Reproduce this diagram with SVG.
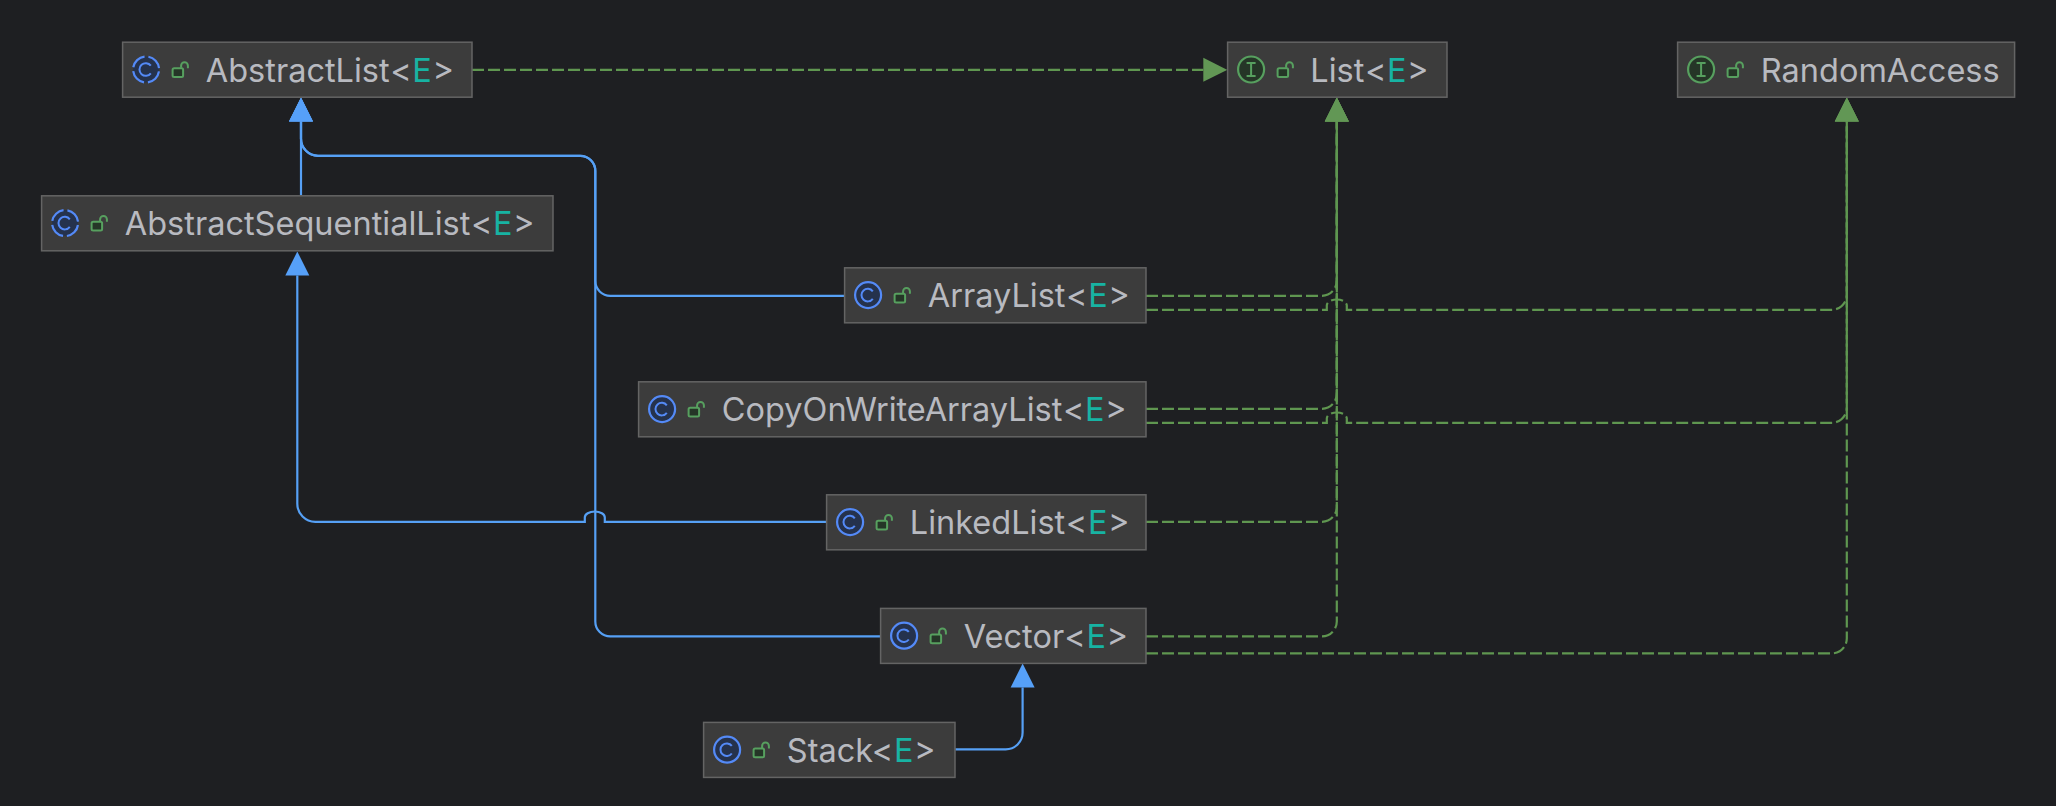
<svg xmlns="http://www.w3.org/2000/svg" width="2056" height="806" viewBox="0 0 2056 806">
<style>
.bg{fill:#1e1f22}
.box{fill:#3c3c3c;stroke:#646464;stroke-width:1.500}
.label{font-family:"Inter","Liberation Sans",sans-serif;font-size:32.500px;font-weight:400;fill:#b8bac0}
.e{fill:#17b3a3}
.ext{fill:none;stroke:#56a0f5;stroke-width:2.200}
.impl{fill:none;stroke:#5f9650;stroke-width:2.200;stroke-dasharray:12 4}
</style>
<defs>
<marker id="ah-blue" markerUnits="userSpaceOnUse" markerWidth="25" markerHeight="26" refX="1" refY="13" orient="auto" viewBox="0 0 25 26"><path d="M1 1 L25 13 L1 25 Z" fill="#56a0f8"/></marker>
<marker id="ah-green" markerUnits="userSpaceOnUse" markerWidth="25" markerHeight="26" refX="1" refY="13" orient="auto" viewBox="0 0 25 26"><path d="M1 1 L25 13 L1 25 Z" fill="#629755"/></marker>
<g id="lock"><rect x="50" y="26" width="10.500" height="8.800" rx="1.500" fill="#253627" stroke="#57a05f" stroke-width="2"/><path d="M58.500 25.500 V23.500 A3.400 3.400 0 0 1 65.300 23.500 V26" fill="none" stroke="#57a05f" stroke-width="2"/></g>
<g id="glyphC"><path d="M28.200 23.500 A6.300 6.300 0 1 0 28.200 31.100" fill="none" stroke="#548af7" stroke-width="2"/></g>
<g id="icon-class"><circle cx="23.500" cy="27.300" r="13" fill="#25324d" stroke="#548af7" stroke-width="2.200"/><use href="#glyphC"/><use href="#lock"/></g>
<g id="icon-abstract"><circle cx="23.500" cy="27.300" r="13" fill="#25324d"/><circle cx="23.500" cy="27.300" r="13" fill="none" stroke="#548af7" stroke-width="2.200" stroke-dasharray="16.420 4" stroke-dashoffset="-2"/><use href="#glyphC"/><use href="#lock"/></g>
<g id="icon-iface"><circle cx="23.500" cy="27.300" r="13" fill="#253627" stroke="#57a05f" stroke-width="2.200"/><path d="M19 20.700 H28 M19 33.900 H28 M23.500 20.700 V33.900" fill="none" stroke="#57a05f" stroke-width="2"/><use href="#lock"/></g>
</defs>
<rect class="bg" width="2056" height="806"/>
<g id="diagram" transform="translate(0.300 0.500)">
<g id="connectors">
<path class="impl" marker-end="url(#ah-green)" d="M471.700 69.300 H1203"/>
<path class="impl" marker-end="url(#ah-green)" d="M1145.700 295.300 H1321.500 A15 15 0 0 0 1336.500 280.300 V121"/>
<path class="impl" marker-end="url(#ah-green)" d="M1145.700 309.300 H1326.500 V305 A10 6 0 0 1 1346.500 305 V309.300 H1831.500 A15 15 0 0 0 1846.500 294.300 V121"/>
<path class="impl" marker-end="url(#ah-green)" d="M1145.700 408.300 H1321.500 A15 15 0 0 0 1336.500 393.300 V121"/>
<path class="impl" marker-end="url(#ah-green)" d="M1145.700 422.300 H1326.500 V418 A10 6 0 0 1 1346.500 418 V422.300 H1831.500 A15 15 0 0 0 1846.500 407.300 V121"/>
<path class="impl" marker-end="url(#ah-green)" d="M1145.700 521.300 H1321.500 A15 15 0 0 0 1336.500 506.300 V121"/>
<path class="impl" marker-end="url(#ah-green)" d="M1145.700 635.900 H1321.500 A15 15 0 0 0 1336.500 620.900 V121"/>
<path class="impl" marker-end="url(#ah-green)" d="M1145.700 652.900 H1831.500 A15 15 0 0 0 1846.500 637.900 V121"/>
<path class="ext" marker-end="url(#ah-blue)" d="M300.700 195 V121"/>
<path class="ext" marker-end="url(#ah-blue)" d="M844 295.300 H610 A15 15 0 0 1 595 280.300 V170.300 A15 15 0 0 0 580 155.300 H318 A17 17 0 0 1 300.700 138 V121"/>
<path class="ext" marker-end="url(#ah-blue)" d="M880 635.900 H610 A15 15 0 0 1 595 620.900 V170.300 A15 15 0 0 0 580 155.300 H318 A17 17 0 0 1 300.700 138 V121"/>
<path class="ext" marker-end="url(#ah-blue)" d="M826 521.300 H604.500 V517 A10 6 0 0 0 584.500 517 V521.300 H315 A18 18 0 0 1 297 503.300 V275"/>
<path class="ext" marker-end="url(#ah-blue)" d="M955 748.900 H1005 A17 17 0 0 0 1022.300 731.600 V687"/>
</g>
<g id="node-AbstractList"><rect class="box" x="122.300" y="41.700" width="349.400" height="55"/><use href="#icon-abstract" x="122.300" y="41.700"/><text class="label" x="205.500" y="81">AbstractList<tspan dx="1.500">&lt;</tspan><tspan class="e" dx="0.600">E</tspan><tspan dx="0.500">&gt;</tspan></text></g>
<g id="node-List"><rect class="box" x="1227.300" y="41.700" width="219.400" height="55"/><use href="#icon-iface" x="1227.300" y="41.700"/><text class="label" x="1310" y="81">List<tspan dx="1.500">&lt;</tspan><tspan class="e" dx="0.600">E</tspan><tspan dx="0.500">&gt;</tspan></text></g>
<g id="node-RandomAccess"><rect class="box" x="1677.300" y="41.700" width="337" height="55"/><use href="#icon-iface" x="1677.300" y="41.700"/><text class="label" x="1760.500" y="81">RandomAccess</text></g>
<g id="node-AbstractSequentialList"><rect class="box" x="41.300" y="195.300" width="511.400" height="55"/><use href="#icon-abstract" x="41.300" y="195.300"/><text class="label" x="124.500" y="234.600">AbstractSequentialList<tspan dx="1.500">&lt;</tspan><tspan class="e" dx="0.600">E</tspan><tspan dx="0.500">&gt;</tspan></text></g>
<g id="node-ArrayList"><rect class="box" x="844.300" y="267.300" width="301.400" height="55"/><use href="#icon-class" x="844.300" y="267.300"/><text class="label" x="927.500" y="306.600">ArrayList<tspan dx="1.500">&lt;</tspan><tspan class="e" dx="0.600">E</tspan><tspan dx="0.500">&gt;</tspan></text></g>
<g id="node-CopyOnWriteArrayList"><rect class="box" x="638.300" y="381.300" width="507.400" height="55"/><use href="#icon-class" x="638.300" y="381.300"/><text class="label" x="721.500" y="420.600">CopyOnWriteArrayList<tspan dx="1.500">&lt;</tspan><tspan class="e" dx="0.600">E</tspan><tspan dx="0.500">&gt;</tspan></text></g>
<g id="node-LinkedList"><rect class="box" x="826.300" y="494.300" width="319.400" height="55"/><use href="#icon-class" x="826.300" y="494.300"/><text class="label" x="909.500" y="533.600">LinkedList<tspan dx="1.500">&lt;</tspan><tspan class="e" dx="0.600">E</tspan><tspan dx="0.500">&gt;</tspan></text></g>
<g id="node-Vector"><rect class="box" x="880.300" y="607.900" width="265.400" height="55"/><use href="#icon-class" x="880.300" y="607.900"/><text class="label" x="963.500" y="647.400">Vector<tspan dx="1.500">&lt;</tspan><tspan class="e" dx="0.600">E</tspan><tspan dx="0.500">&gt;</tspan></text></g>
<g id="node-Stack"><rect class="box" x="703.300" y="721.900" width="251.400" height="55"/><use href="#icon-class" x="703.300" y="721.900"/><text class="label" x="786.500" y="761.400">Stack<tspan dx="1.500">&lt;</tspan><tspan class="e" dx="0.600">E</tspan><tspan dx="0.500">&gt;</tspan></text></g>
</g>
</svg>
